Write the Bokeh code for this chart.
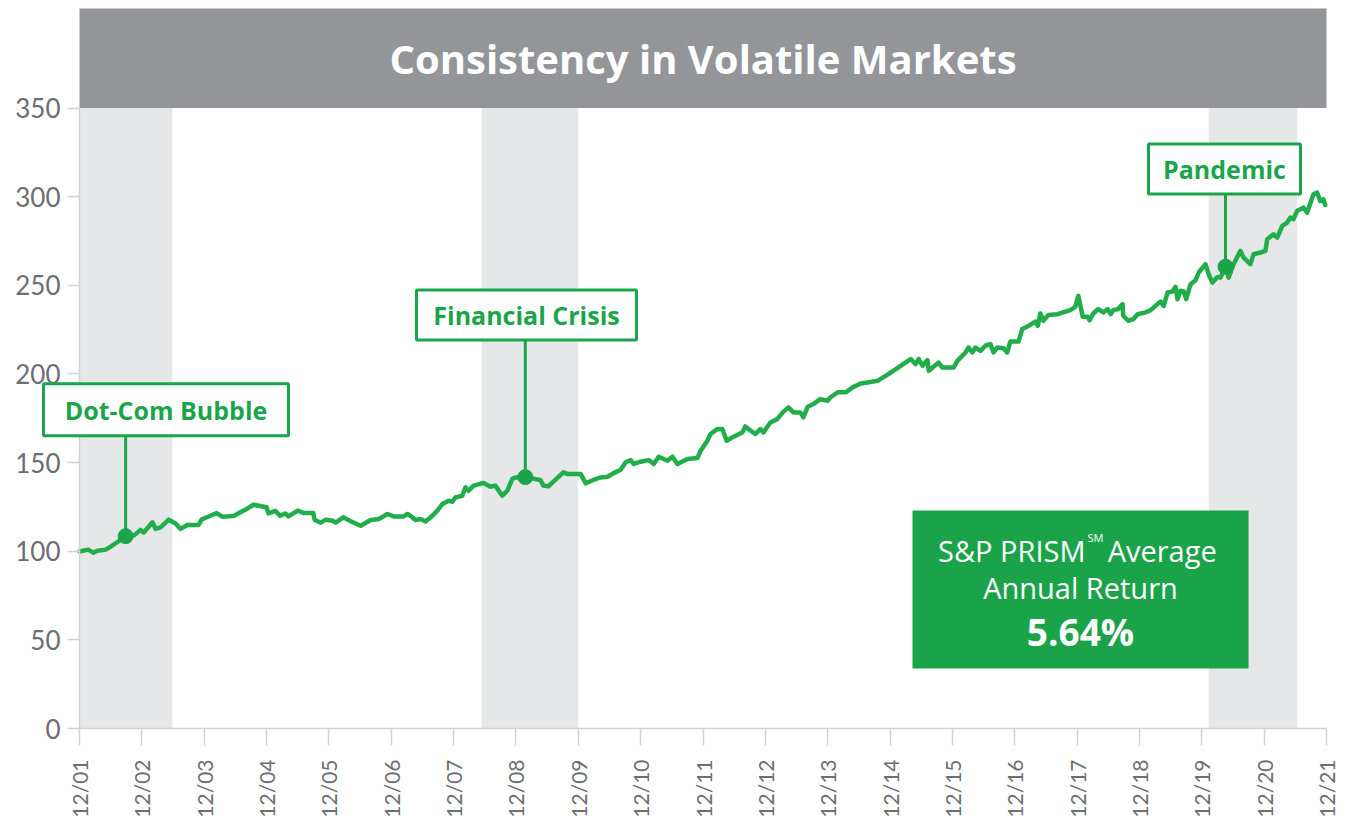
import math
from bokeh.plotting import figure
from bokeh.models import Range1d, FixedTicker, BoxAnnotation, Label
from bokeh.embed import file_html
from bokeh.resources import INLINE

# ---------------- data ----------------
# time in years since 12/01
years = [0.00, 0.14, 0.22, 0.29, 0.42, 0.50, 0.61, 0.74, 0.87, 0.98,
         1.03, 1.17, 1.22, 1.30, 1.43, 1.54, 1.62, 1.73, 1.91, 1.96,
         2.10, 2.20, 2.29, 2.47, 2.58, 2.69, 2.79, 2.94, 3.00, 3.03,
         3.14, 3.22, 3.30, 3.35, 3.50, 3.59, 3.75, 3.77, 3.87, 3.95,
         4.06, 4.11, 4.23, 4.35, 4.51, 4.67, 4.80, 4.94, 5.04, 5.20,
         5.26, 5.32, 5.39, 5.47, 5.55, 5.66, 5.74, 5.82, 5.92, 5.98,
         6.03, 6.14, 6.19, 6.24, 6.32, 6.48, 6.59, 6.67, 6.78, 6.86,
         6.94, 6.99, 7.15, 7.39, 7.44, 7.52, 7.76, 7.83, 8.04, 8.12,
         8.24, 8.36, 8.47, 8.56, 8.68, 8.76, 8.84, 8.89, 9.00, 9.13,
         9.21, 9.29, 9.43, 9.51, 9.59, 9.75, 9.91, 9.96, 10.07, 10.12,
         10.23, 10.31, 10.38, 10.49, 10.63, 10.68, 10.73, 10.84, 10.92, 10.97,
         11.08, 11.19, 11.28, 11.37, 11.45, 11.56, 11.61, 11.68, 11.77, 11.88,
         12.00, 12.04, 12.16, 12.29, 12.40, 12.53, 12.64, 12.80, 12.98, 13.17,
         13.33, 13.41, 13.46, 13.52, 13.60, 13.62, 13.78, 13.84, 14.02, 14.08,
         14.21, 14.26, 14.32, 14.37, 14.45, 14.53, 14.61, 14.66, 14.72, 14.82,
         14.88, 14.93, 15.06, 15.12, 15.22, 15.33, 15.37, 15.41, 15.46, 15.54,
         15.69, 15.89, 15.97, 16.02, 16.09, 16.17, 16.20, 16.26, 16.34, 16.42,
         16.49, 16.54, 16.58, 16.66, 16.73, 16.74, 16.82, 16.90, 16.97, 17.10,
         17.18, 17.29, 17.34, 17.39, 17.45, 17.53, 17.58, 17.61, 17.66, 17.71,
         17.75, 17.82, 17.90, 17.95, 18.06, 18.11, 18.17, 18.25, 18.30, 18.38,
         18.43, 18.51, 18.62, 18.67, 18.78, 18.83, 18.94, 19.02, 19.05, 19.15,
         19.21, 19.29, 19.37, 19.42, 19.47, 19.53, 19.63, 19.69, 19.79, 19.85,
         19.90, 19.95, 19.98]

index_values = [99.8, 100.9, 99.2, 100.3, 100.9, 102.6, 105.2, 108.5, 108.8, 112.0,
                110.6, 116.3, 112.6, 113.5, 117.8, 115.6, 112.6, 114.8, 114.8, 118.0,
                120.0, 121.5, 119.5, 119.8, 122.0, 124.0, 126.2, 125.2, 124.8, 121.3,
                122.7, 120.0, 121.3, 119.6, 122.9, 121.6, 121.6, 117.8, 116.1, 117.8,
                117.2, 116.1, 119.1, 116.9, 114.4, 117.6, 118.2, 121.0, 119.6, 119.6,
                121.0, 119.6, 117.6, 118.2, 116.8, 120.0, 122.9, 126.6, 128.5, 127.9,
                130.4, 131.3, 136.0, 134.1, 137.0, 138.5, 136.4, 137.0, 131.3, 134.1,
                140.7, 141.6, 141.8, 140.2, 137.0, 136.6, 144.5, 143.5, 143.5, 138.3,
                140.2, 141.6, 142.0, 143.9, 146.0, 150.2, 151.4, 149.2, 150.5, 151.4,
                149.2, 153.3, 151.0, 153.3, 149.2, 152.0, 152.6, 156.5, 162.3, 166.1,
                168.9, 168.9, 162.3, 164.6, 167.0, 170.4, 168.9, 166.1, 168.9, 167.0,
                172.6, 174.5, 178.3, 181.1, 178.3, 178.3, 175.5, 181.5, 183.0, 185.8,
                184.9, 186.7, 189.6, 189.6, 192.4, 194.6, 195.2, 196.1, 200.0, 204.6,
                208.4, 205.5, 208.4, 204.6, 207.8, 201.8, 206.4, 203.6, 203.6, 207.4,
                212.1, 214.9, 212.1, 214.9, 213.0, 215.9, 216.8, 212.1, 214.9, 214.5,
                212.1, 218.3, 218.3, 225.3, 227.1, 229.5, 227.1, 234.1, 230.0, 233.3,
                233.7, 236.0, 237.8, 244.0, 232.2, 232.2, 230.3, 234.1, 236.6, 234.7,
                236.6, 233.7, 236.0, 236.6, 239.4, 232.8, 230.0, 230.9, 233.7, 234.7,
                236.0, 239.4, 240.8, 238.4, 245.9, 246.5, 249.1, 242.2, 246.9, 246.5,
                242.2, 250.6, 252.8, 257.2, 261.9, 256.2, 251.5, 254.7, 254.3, 260.5,
                254.3, 261.9, 269.4, 265.6, 261.9, 267.5, 268.5, 269.4, 276.0, 278.8,
                276.9, 283.5, 285.4, 288.2, 287.3, 292.0, 293.8, 291.0, 301.3, 302.3,
                297.6, 298.5, 295.3]

x_tick_labels = ["12/01", "12/02", "12/03", "12/04", "12/05", "12/06", "12/07",
                 "12/08", "12/09", "12/10", "12/11", "12/12", "12/13", "12/14",
                 "12/15", "12/16", "12/17", "12/18", "12/19", "12/20", "12/21"]
y_ticks = [0, 50, 100, 150, 200, 250, 300, 350]

shade_start = [0.00, 6.45, 18.11]
shade_end = [1.49, 8.00, 19.53]

event_names = ["Dot-Com Bubble", "Financial Crisis", "Pandemic"]
event_t = [0.74, 7.15, 18.38]
event_v = [108.5, 141.8, 260.5]

title_text = "Consistency in Volatile Markets"
avg_return = "5.64%"

# ---------------- styling / layout ----------------
GREEN_LINE = "#22ad4b"
GREEN_DARK = "#1ba54a"
GREEN_BOX = "#1ba34a"
SHADE = "#e6e7e8"
BAR = "#939598"
AXIS = "#d1d3d4"
LABEL = "#6d6e71"
FONT = "Open Sans"
AXFONT = "Lato"

W, H = 1338, 826
PX_X = 62.35              # pixels per year
PX_Y = 620.5 / 350        # pixels per index point
X0_PX, Y0_PX = 79, 728    # where (0, 0) sits on the canvas

# the frame fills the whole canvas; both axes are pinned at 0
x_range = Range1d(-X0_PX / PX_X, (W - X0_PX) / PX_X)
y_range = Range1d(-(H - Y0_PX) / PX_Y, Y0_PX / PX_Y)
BAR_TOP = (Y0_PX - 8) / PX_Y

p = figure(width=W, height=H, x_range=x_range, y_range=y_range,
           output_backend="svg", toolbar_location=None,
           min_border_left=0, min_border_right=0,
           min_border_top=0, min_border_bottom=0)
p.xgrid.visible = False
p.ygrid.visible = False
p.outline_line_color = None
p.background_fill_color = "white"
p.border_fill_color = "white"

# y axis, pinned at x = 0 (12/01)
p.yaxis.fixed_location = 0
p.yaxis.ticker = FixedTicker(ticks=y_ticks)
p.yaxis.bounds = (0, 350)
p.yaxis.axis_line_color = AXIS
p.yaxis.axis_line_width = 1.5
p.yaxis.major_tick_line_color = AXIS
p.yaxis.major_tick_line_width = 1.5
p.yaxis.major_tick_in = 0
p.yaxis.major_tick_out = 12
p.yaxis.minor_tick_line_color = None
p.yaxis.major_label_text_font = AXFONT
p.yaxis.major_label_text_font_size = "26px"
p.yaxis.major_label_text_color = LABEL
p.yaxis.major_label_standoff = 7

# x axis, pinned at y = 0
p.xaxis.fixed_location = 0
p.xaxis.ticker = FixedTicker(ticks=list(range(len(x_tick_labels))))
p.xaxis.major_label_overrides = {i: lab for i, lab in enumerate(x_tick_labels)}
p.xaxis.major_label_orientation = math.pi / 2
p.xaxis.bounds = (0, 20)
p.xaxis.axis_line_color = AXIS
p.xaxis.axis_line_width = 1.5
p.xaxis.major_tick_line_color = AXIS
p.xaxis.major_tick_line_width = 1.5
p.xaxis.major_tick_in = 0
p.xaxis.major_tick_out = 17
p.xaxis.minor_tick_line_color = None
p.xaxis.major_label_text_font = AXFONT
p.xaxis.major_label_text_font_size = "21px"
p.xaxis.major_label_text_color = LABEL
p.xaxis.major_label_standoff = 14

# shaded crisis periods
p.quad(left=shade_start, right=shade_end, bottom=0, top=350,
       fill_color=SHADE, line_color=None)

# title bar
p.quad(left=[0], right=[20], bottom=[350], top=[BAR_TOP],
       fill_color=BAR, line_color=None)
p.add_layout(Label(x=10, y=(350 + BAR_TOP) / 2, text=title_text, text_align="center",
                   text_baseline="middle", text_color="white",
                   text_font=FONT, text_font_style="bold",
                   text_font_size="40px"))

# main line
p.line(years, index_values, line_width=4.5, line_color=GREEN_LINE,
       line_join="round", line_cap="round")

# annotation boxes (left, right, bottom, top)
box_l = [-0.577, 5.405, 17.145]
box_r = [3.352, 8.933, 19.583]
box_b = [165.1, 219.2, 301.5]
box_t = [194.4, 247.4, 329.7]

p.segment(x0=event_t, y0=event_v, x1=event_t, y1=box_b,
          line_width=3, line_color=GREEN_DARK)
p.scatter(event_t, event_v, size=15, fill_color=GREEN_DARK, line_color=GREEN_DARK)

for name, l, r, b, t in zip(event_names, box_l, box_r, box_b, box_t):
    p.add_layout(BoxAnnotation(left=l, right=r, bottom=b, top=t,
                               fill_color="white", fill_alpha=1.0,
                               line_color=GREEN_DARK, line_width=3, line_alpha=1.0))
    p.add_layout(Label(x=(l + r) / 2, y=(b + t) / 2, text=name,
                       text_align="center", text_baseline="middle",
                       text_color=GREEN_DARK, text_font=FONT,
                       text_font_style="bold", text_font_size="25px"))

# average return box
p.quad(left=[13.36], right=[18.75], bottom=[33.8], top=[122.9],
       fill_color=GREEN_BOX, line_color=None)
p.add_layout(Label(x=16.135, y=100.3, text="S&P PRISM", text_align="right",
                   text_baseline="middle", text_color="white", text_font=FONT,
                   text_font_size="29px"))
p.add_layout(Label(x=16.165, y=108.0, text="SM", text_align="left",
                   text_baseline="middle", text_color="white", text_font=FONT,
                   text_font_size="11px"))
p.add_layout(Label(x=16.49, y=100.3, text="Average", text_align="left",
                   text_baseline="middle", text_color="white", text_font=FONT,
                   text_font_size="29px"))
p.add_layout(Label(x=16.054, y=79.5, text="Annual Return", text_align="center",
                   text_baseline="middle", text_color="white", text_font=FONT,
                   text_font_size="29px"))
p.add_layout(Label(x=16.054, y=54.7, text=avg_return, text_align="center",
                   text_baseline="middle", text_color="white", text_font=FONT,
                   text_font_style="bold", text_font_size="37px"))

open("out.html", "w").write(file_html(p, INLINE))
